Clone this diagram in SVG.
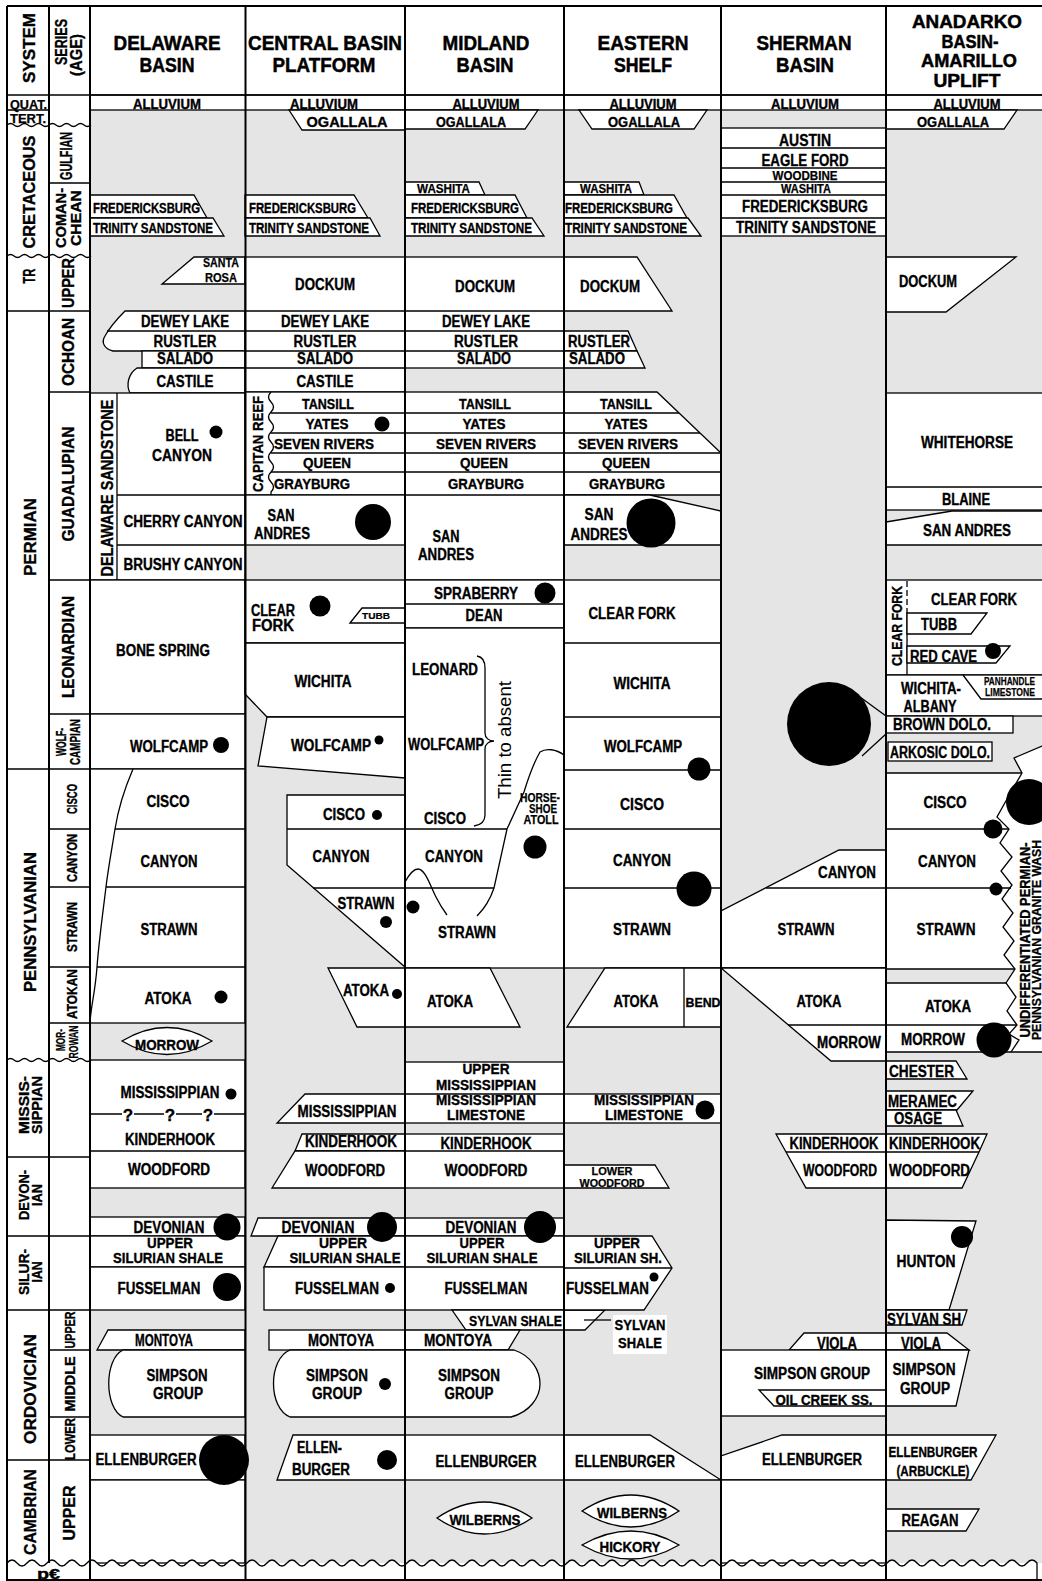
<svg xmlns="http://www.w3.org/2000/svg" width="1042" height="1581" viewBox="0 0 1042 1581">
<style>
.g{fill:#e5e5e5}
.w{fill:#fff;stroke:#000;stroke-width:1.3}
.n{fill:none;stroke:#000;stroke-width:1.3}
.v{fill:none;stroke:#000;stroke-width:2}
.d{fill:#000}
text{font-family:"Liberation Sans",Arial,Helvetica,sans-serif;font-weight:700;font-size:16px;text-anchor:middle;fill:#000;stroke:#000;stroke-width:.35px}
.a{text-anchor:start}
.e{text-anchor:end}
.h{font-size:21px;stroke-width:.5px}
.f9{font-size:9px;stroke-width:.2px}.f11{font-size:11px;stroke-width:.25px}.f12{font-size:12px;stroke-width:.25px}.f13{font-size:13px}.f14{font-size:14px}.f15{font-size:15px}.f17{font-size:17px}.f19{font-size:19px;stroke-width:.5px}
.thin{font-weight:400;font-size:18.5px;stroke:none}
</style>
<rect width="1042" height="1581" fill="#fff"/>
<rect class="g" x="90" y="110" width="952" height="1453"/>
<rect class="w" x="90" y="95" width="960" height="15"/>

<g id="delaware">
<polygon class="w" points="90,195 194,195 207,218 90,218"/>
<polygon class="w" points="90,218 213,218 224,236 90,236"/>
<polygon class="w" points="194,257 245,257 245,284 162,284"/>
<path class="w" d="M125,311 H245 V351 H113 C104,349 101,342 105,336 C110,327 118,318 125,311 Z"/>
<line class="n" x1="107" y1="331" x2="245" y2="331"/>
<rect class="w" x="142" y="351" width="103" height="17"/>
<path class="w" d="M137,368 H245 V393 H130 C126,385 128,374 137,368 Z"/>
<rect class="w" x="90" y="393" width="155" height="187"/>
<path class="n" d="M117,393 V580 M117,495 H245 M117,545 H245"/>
<rect class="w" x="90" y="580" width="155" height="134"/>
<rect class="w" x="90" y="714" width="155" height="55"/>
<rect class="w" x="90" y="769" width="155" height="254"/>
<path class="n" d="M133,769 C124,790 118,810 115,829 S108,870 106,887 S99,940 97,967 S91,1005 90,1023"/>
<path class="n" d="M115,829 H245 M106,887 H245 M97,967 H245"/>
<path class="w" d="M122,1041 Q167,1014 212,1041 Q167,1068 122,1041 Z"/>
<rect class="w" x="90" y="1060" width="155" height="128"/>
<path class="n" d="M90,1114 H122 M134,1114 H164 M176,1114 H202 M214,1114 H245 M90,1151 H245"/>
<rect class="w" x="90" y="1217" width="155" height="19"/>
<rect class="w" x="90" y="1236" width="155" height="31"/>
<rect class="w" x="90" y="1267" width="155" height="43"/>
<polygon class="w" points="108,1330 245,1330 245,1350 97,1350"/>
<path class="w" d="M123,1350 H245 V1417 H123 C104,1408 104,1359 123,1350 Z"/>
<rect class="w" x="90" y="1435" width="155" height="45"/>
<rect class="w" x="90" y="1480" width="155" height="83"/>
</g>

<g id="central-basin-platform">
<polygon class="w" points="289,110 405,110 405,130 302,130"/>
<polygon class="w" points="245,195 354,195 368,218 245,218"/>
<polygon class="w" points="245,218 370,218 380,236 245,236"/>
<rect class="w" x="245" y="257" width="160" height="135"/>
<path class="n" d="M245,311 H405 M245,331 H405 M245,351 H405 M245,368 H405"/>
<rect class="w" x="245" y="392" width="160" height="103"/>
<path class="n" d="M271,392 q-5,5 0,10 t0,10 t0,10 t0,10 t0,10 t0,10 t0,10 t0,10 t0,10 t0,10 l0,3"/>
<path class="n" d="M271,413 H405 M271,433 H405 M271,453 H405 M271,472 H405"/>
<rect class="w" x="245" y="495" width="160" height="50"/>
<rect class="w" x="245" y="580" width="160" height="63"/>
<polygon class="w" points="350,623 362,608 405,608 405,623"/>
<polygon class="w" points="245,643 405,643 405,717 267,717 245,694"/>
<polygon class="w" points="267,717 405,717 405,778 258,766"/>
<polygon class="w" points="287,795 405,795 405,967 287,865"/>
<path class="n" d="M287,829 H405 M313,888 H405"/>
<polygon class="w" points="328,968 405,968 405,1027 357,1027"/>
<polygon class="w" points="305,1094 405,1094 405,1123 277,1123"/>
<polygon class="w" points="302,1134 405,1134 405,1151 295,1151"/>
<polygon class="w" points="295,1151 405,1151 405,1188 272,1188"/>
<polygon class="w" points="258,1218 405,1218 405,1236 251,1236"/>
<polygon class="w" points="278,1236 405,1236 405,1267 264,1267"/>
<rect class="w" x="264" y="1267" width="141" height="43"/>
<rect class="w" x="269" y="1330" width="136" height="20"/>
<path class="w" d="M290,1350 H405 V1417 H290 C268,1408 268,1359 290,1350 Z"/>
<polygon class="w" points="293,1435 405,1435 405,1480 277,1480"/>
</g>

<g id="midland-basin">
<polygon class="w" points="405,110 538,110 525,129 405,129"/>
<polygon class="w" points="405,182 479,182 485,195 405,195"/>
<polygon class="w" points="405,195 515,195 527,218 405,218"/>
<polygon class="w" points="405,218 532,218 544,236 405,236"/>
<rect class="w" x="405" y="257" width="159" height="111"/>
<path class="n" d="M405,311 H564 M405,331 H564 M405,351 H564"/>
<rect class="w" x="405" y="392" width="159" height="188"/>
<path class="n" d="M405,413 H564 M405,433 H564 M405,453 H564 M405,472 H564 M405,495 H564"/>
<rect class="w" x="405" y="580" width="159" height="48"/>
<line class="n" x1="405" y1="604" x2="564" y2="604"/>
<rect class="w" x="405" y="628" width="159" height="340"/>
<path class="n" d="M405,829 H507 M405,888 H494"/>
<path class="n" d="M564,755 C556,749 546,748 540,752 C533,764 528,779 524,792 L507,829 L494,888 C490,900 484,909 477,916"/>
<path class="n" d="M405,882 C410,873 414,869 418,869 C425,869 430,885 436,897 C440,905 444,911 447,915"/>
<path class="n" d="M477,656 C483,657 485,661 485,668 L485,733 C485,738 489,741 494,741 C489,741 485,744 485,749 L485,815 C485,821 481,825 474,826"/>
<polygon class="w" points="405,968 490,968 520,1027 405,1027"/>
<rect class="w" x="405" y="1062" width="159" height="61"/>
<line class="n" x1="405" y1="1094" x2="564" y2="1094"/>
<rect class="w" x="405" y="1134" width="159" height="54"/>
<line class="n" x1="405" y1="1151" x2="564" y2="1151"/>
<rect class="w" x="405" y="1218" width="159" height="18"/>
<rect class="w" x="405" y="1236" width="159" height="74"/>
<line class="n" x1="405" y1="1267" x2="564" y2="1267"/>
<polygon class="w" points="452,1310 605,1310 585,1330 466,1330"/>
<polygon class="w" points="405,1330 520,1330 508,1350 405,1350"/>
<path class="w" d="M405,1350 H514 C532,1356 540,1371 540,1384 C540,1397 530,1412 511,1417 H405 Z"/>
<rect class="w" x="405" y="1435" width="159" height="45"/>
<path class="w" d="M437,1518 Q484,1486 532,1518 Q484,1550 437,1518 Z"/>
</g>

<g id="eastern-shelf">
<polygon class="w" points="579,110 707,110 694,129 592,129"/>
<polygon class="w" points="564,182 639,182 644,195 564,195"/>
<polygon class="w" points="564,195 674,195 687,218 564,218"/>
<polygon class="w" points="564,218 688,218 701,236 564,236"/>
<polygon class="w" points="564,257 637,257 672,311 564,311"/>
<polygon class="w" points="564,331 628,331 637,351 564,351"/>
<polygon class="w" points="564,351 637,351 645,368 564,368"/>
<polygon class="w" points="564,392 657,392 721,453 721,495 564,495"/>
<path class="n" d="M564,413 H679 M564,433 H700 M564,453 H721 M564,472 H721"/>
<polygon class="w" points="564,495 650,495 721,511 721,545 564,545"/>
<rect class="w" x="564" y="580" width="157" height="388"/>
<path class="n" d="M564,643 H721 M564,717 H721 M564,770 H721 M564,829 H721 M564,888 H721"/>
<polygon class="w" points="605,968 721,968 721,1027 567,1027"/>
<line class="n" x1="684" y1="968" x2="684" y2="1027"/>
<rect class="w" x="564" y="1094" width="157" height="29"/>
<polygon class="w" points="564,1165 655,1165 669,1188 564,1188"/>
<polygon class="w" points="564,1236 652,1236 672,1268 644,1310 564,1310"/>
<line class="n" x1="564" y1="1268" x2="672" y2="1268"/>
<polygon class="w" points="564,1435 650,1435 721,1480 564,1480"/>
<path class="w" d="M582,1511 Q631,1479 679,1511 Q631,1543 582,1511 Z"/>
<path class="w" d="M582,1545 Q631,1517 679,1545 Q631,1573 582,1545 Z"/>
<rect x="613" y="1315" width="54" height="39" fill="#fff"/>
</g>

<g id="sherman-basin">
<rect class="w" x="721" y="128" width="165" height="108"/>
<path class="n" d="M721,148 H886 M721,168 H886 M721,182 H886 M721,195 H886 M721,218 H886"/>
<polygon class="w" points="839,850 886,850 886,968 721,968 721,911"/>
<line class="n" x1="766" y1="888" x2="886" y2="888"/>
<polygon class="w" points="721,968 886,968 886,1061 831,1061"/>
<line class="n" x1="788" y1="1025" x2="886" y2="1025"/>
<polygon class="w" points="776,1134 987,1134 979,1152 962,1188 806,1188"/>
<line class="n" x1="786" y1="1152" x2="979" y2="1152"/>
<polygon class="w" points="804,1333 947,1333 969,1350 789,1350"/>
<rect class="w" x="721" y="1350" width="165" height="66"/>
<polygon class="w" points="759,1390 886,1390 886,1406 774,1406"/>
<polygon class="w" points="886,1350 969,1350 956,1406 886,1406"/>
<polygon class="w" points="782,1435 886,1435 886,1480 721,1480 721,1456"/>
<rect class="w" x="721" y="1480" width="165" height="83"/>
</g>

<g id="anadarko-basin">
<polygon class="w" points="886,110 1017,110 1004,129 886,129"/>
<polygon class="w" points="886,257 1016,257 946,312 886,312"/>
<rect class="w" x="886" y="393" width="160" height="117"/>
<line class="n" x1="886" y1="487" x2="1046" y2="487"/>
<polygon class="w" points="886,522 952,511 1046,511 1046,545 886,545"/>
<rect class="w" x="886" y="580" width="160" height="95"/>
<path class="n" d="M907,613 V675"/>
<path class="n" d="M907,581 V613" stroke-dasharray="6,3"/>
<polygon class="w" points="907,613 987,613 971,634 907,634"/>
<polygon class="w" points="907,646 1010,646 996,663 907,663"/>
<rect class="w" x="886" y="675" width="160" height="41"/>
<path class="n" d="M963,675 L981,699 H1046"/>
<rect class="w" x="886" y="716" width="127" height="17"/>
<rect class="w" x="888" y="742" width="104" height="19"/>
<polygon fill="#fff" points="886,773 1022,773 1014,758 1042,746 1046,746 1046,1052 886,1052"/>
<polygon class="g" points="886,969 1015,969 1006,983 886,983"/>
<polyline class="n" points="1042,746 1014,758 1022,773 1011,792 997,817 1009,829 1000,843 1012,857 1001,871 1012,885 1002,899 1013,913 1003,927 1014,941 1004,955 1015,969 1006,983 1016,997 1007,1011 1017,1025 1009,1034 1019,1040 1011,1052"/>
<path class="n" d="M886,773 H1022 M886,829 H1009 M886,888 H1011 M886,969 H1015 M886,983 H1006 M886,1025 H1017 M886,1052 H1046"/>
<polygon class="w" points="886,1061 956,1061 967,1079 886,1079"/>
<polygon class="w" points="886,1091 973,1091 957,1110 886,1110"/>
<polygon class="w" points="886,1110 956,1110 963,1126 886,1126"/>
<polygon class="w" points="886,1220 976,1221 949,1310 886,1310"/>
<polygon class="w" points="886,1310 967,1310 962,1325 886,1325"/>
<polygon class="w" points="886,1435 996,1435 971,1480 886,1480"/>
<polygon class="w" points="886,1509 979,1509 966,1531 886,1531"/>
</g>

<g id="connectors">
<path class="n" d="M860,697 L886,716 M862,756 L886,734"/>
<path class="n" d="M584,1320 H611"/>
</g>

<g id="frame">
<path class="w" d="M7,1563 q5,-6 10,0 t10,0t10,0t10,0t10,0t10,0t10,0t10,0t10,0t10,0 t10,0t10,0t10,0t10,0t10,0t10,0t10,0t10,0t10,0t10,0 t10,0t10,0t10,0t10,0t10,0t10,0t10,0t10,0t10,0t10,0 t10,0t10,0t10,0t10,0t10,0t10,0t10,0t10,0t10,0t10,0 t10,0t10,0t10,0t10,0t10,0t10,0t10,0t10,0t10,0t10,0 t10,0t10,0t10,0t10,0t10,0t10,0t10,0t10,0t10,0t10,0 t10,0t10,0t10,0t10,0t10,0t10,0t10,0t10,0t10,0t10,0 t10,0t10,0t10,0t10,0t10,0t10,0t10,0t10,0t10,0t10,0 t10,0t10,0t10,0t10,0t10,0t10,0t10,0t10,0t10,0t10,0 t10,0t10,0t10,0t10,0t10,0t10,0t10,0t10,0t10,0t10,0 t10,0t10,0t10,0 V1590 H7 Z"/>
<path class="n" d="M7,95 H1042 M7,110 H49 M49,183 H90 M7,311 H90 M49,392 H90 M49,580 H90 M49,714 H90 M7,769 H90 M49,829 H90 M49,887 H90 M49,967 H90 M49,1023 H90 M7,1157 H90 M7,1236 H90 M7,1310 H90 M49,1350 H90 M49,1417 H90 M7,1460 H90"/>
<path class="n" d="M7,125 q3.5,-3 7,0 t7,0 t7,0 t7,0 t7,0 t7,0 t7,0 t7,0 t7,0 t7,0 t7,0 t7,0"/>
<path class="n" d="M7,256 q3.5,-3 7,0 t7,0 t7,0 t7,0 t7,0 t7,0 t7,0 t7,0 t7,0 t7,0 t7,0 t7,0"/>
<path class="n" d="M7,1060 q3.5,-3 7,0 t7,0 t7,0 t7,0 t7,0 t7,0 t7,0 t7,0 t7,0 t7,0 t7,0 t7,0"/>
<path class="v" d="M7,6 H1042 M7,6 V1580 H1042 M49,6 V1563 M90,6 V1580 M245.5,6 V1580 M405,6 V1580 M564,6 V1580 M721,6 V1580 M886,6 V1580"/>
</g>

<g id="dots" class="d">
<circle cx="216" cy="432" r="6.5"/><circle cx="221" cy="745" r="8"/><circle cx="221" cy="997" r="6.5"/><circle cx="231" cy="1094" r="5.5"/><circle cx="227" cy="1227" r="13.5"/><circle cx="227" cy="1287" r="14"/><circle cx="224" cy="1460" r="25"/>
<circle cx="382" cy="424" r="7.5"/><circle cx="373" cy="522" r="18"/><circle cx="320" cy="606" r="10.5"/><circle cx="379" cy="740" r="4.5"/><circle cx="377" cy="815" r="5"/><circle cx="386" cy="922" r="6"/><circle cx="397" cy="994" r="5"/><circle cx="382" cy="1227" r="15"/><circle cx="390" cy="1288" r="5"/><circle cx="385" cy="1384" r="6"/><circle cx="387" cy="1460" r="10"/>
<circle cx="545" cy="593" r="10.5"/><circle cx="413" cy="907" r="6.5"/><circle cx="535" cy="847" r="11.5"/><circle cx="540" cy="1227" r="16"/>
<circle cx="651" cy="523" r="24.5"/><circle cx="699" cy="769" r="11.5"/><circle cx="694" cy="889" r="17.5"/><circle cx="705" cy="1110" r="9.5"/><circle cx="654" cy="1277" r="4.5"/>
<circle cx="829" cy="724" r="42"/>
<circle cx="993" cy="651" r="8"/><circle cx="1029" cy="802" r="23"/><circle cx="993" cy="829" r="9.5"/><circle cx="996" cy="889" r="6.5"/><circle cx="994" cy="1040" r="17.5"/><circle cx="962" cy="1237" r="11"/>
</g>

<g id="headers">
<text class="h" x="167" y="50" textLength="107" lengthAdjust="spacingAndGlyphs">DELAWARE</text>
<text class="h" x="167" y="72" textLength="55" lengthAdjust="spacingAndGlyphs">BASIN</text>
<text class="h" x="325" y="50" textLength="154" lengthAdjust="spacingAndGlyphs">CENTRAL BASIN</text>
<text class="h" x="324" y="72" textLength="103" lengthAdjust="spacingAndGlyphs">PLATFORM</text>
<text class="h" x="486" y="50" textLength="87" lengthAdjust="spacingAndGlyphs">MIDLAND</text>
<text class="h" x="485" y="72" textLength="57" lengthAdjust="spacingAndGlyphs">BASIN</text>
<text class="h" x="643" y="50" textLength="91" lengthAdjust="spacingAndGlyphs">EASTERN</text>
<text class="h" x="643" y="72" textLength="58" lengthAdjust="spacingAndGlyphs">SHELF</text>
<text class="h" x="804" y="50" textLength="95" lengthAdjust="spacingAndGlyphs">SHERMAN</text>
<text class="h" x="805" y="72" textLength="58" lengthAdjust="spacingAndGlyphs">BASIN</text>
<text class="f19" x="967" y="28" textLength="110" lengthAdjust="spacingAndGlyphs">ANADARKO</text>
<text class="f19" x="970" y="48" textLength="57" lengthAdjust="spacingAndGlyphs">BASIN-</text>
<text class="f19" x="969" y="67" textLength="96" lengthAdjust="spacingAndGlyphs">AMARILLO</text>
<text class="f19" x="967" y="87" textLength="67" lengthAdjust="spacingAndGlyphs">UPLIFT</text>
<text class="f17" transform="rotate(-90 35 48)" x="35" y="48" textLength="70" lengthAdjust="spacingAndGlyphs">SYSTEM</text>
<text class="f17" transform="rotate(-90 67 42)" x="67" y="42" textLength="46" lengthAdjust="spacingAndGlyphs">SERIES</text>
<text class="f17" transform="rotate(-90 82 55)" x="82" y="55" textLength="42" lengthAdjust="spacingAndGlyphs">(AGE)</text>
</g>

<g id="age-labels">
<text class="f12 a" x="10" y="109" textLength="37" lengthAdjust="spacingAndGlyphs">QUAT.</text>
<text class="f12 a" x="10" y="123" textLength="36" lengthAdjust="spacingAndGlyphs">TERT.</text>
<text class="f17" transform="rotate(-90 35 192)" x="35" y="192" textLength="113" lengthAdjust="spacingAndGlyphs">CRETACEOUS</text>
<text class="f17" transform="rotate(-90 35 276)" x="35" y="276" textLength="15" lengthAdjust="spacingAndGlyphs">TR</text>
<text class="f17" transform="rotate(-90 36 537)" x="36" y="537" textLength="78" lengthAdjust="spacingAndGlyphs">PERMIAN</text>
<text class="f17" transform="rotate(-90 36 922)" x="36" y="922" textLength="140" lengthAdjust="spacingAndGlyphs">PENNSYLVANIAN</text>
<text class="f15" transform="rotate(-90 29 1105)" x="29" y="1105" textLength="58" lengthAdjust="spacingAndGlyphs">MISSIS-</text>
<text class="f15" transform="rotate(-90 42 1105)" x="42" y="1105" textLength="58" lengthAdjust="spacingAndGlyphs">SIPPIAN</text>
<text class="f15" transform="rotate(-90 29 1195)" x="29" y="1195" textLength="50" lengthAdjust="spacingAndGlyphs">DEVON-</text>
<text class="f15" transform="rotate(-90 42 1195)" x="42" y="1195" textLength="22" lengthAdjust="spacingAndGlyphs">IAN</text>
<text class="f15" transform="rotate(-90 29 1272)" x="29" y="1272" textLength="46" lengthAdjust="spacingAndGlyphs">SILUR-</text>
<text class="f15" transform="rotate(-90 42 1272)" x="42" y="1272" textLength="21" lengthAdjust="spacingAndGlyphs">IAN</text>
<text class="f17" transform="rotate(-90 36 1389)" x="36" y="1389" textLength="110" lengthAdjust="spacingAndGlyphs">ORDOVICIAN</text>
<text class="f17" transform="rotate(-90 36 1512)" x="36" y="1512" textLength="86" lengthAdjust="spacingAndGlyphs">CAMBRIAN</text>
<text class="f14 a" x="37" y="1579" textLength="23" lengthAdjust="spacingAndGlyphs">p€</text>
<text transform="rotate(-90 72 156)" x="72" y="156" textLength="48" lengthAdjust="spacingAndGlyphs">GULFIAN</text>
<text class="f15" transform="rotate(-90 66 218)" x="66" y="218" textLength="60" lengthAdjust="spacingAndGlyphs">COMAN-</text>
<text class="f15" transform="rotate(-90 81 218)" x="81" y="218" textLength="56" lengthAdjust="spacingAndGlyphs">CHEAN</text>
<text transform="rotate(-90 74 283)" x="74" y="283" textLength="50" lengthAdjust="spacingAndGlyphs">UPPER</text>
<text transform="rotate(-90 74 352)" x="74" y="352" textLength="68" lengthAdjust="spacingAndGlyphs">OCHOAN</text>
<text transform="rotate(-90 74 484)" x="74" y="484" textLength="115" lengthAdjust="spacingAndGlyphs">GUADALUPIAN</text>
<text transform="rotate(-90 74 647)" x="74" y="647" textLength="102" lengthAdjust="spacingAndGlyphs">LEONARDIAN</text>
<text class="f14" transform="rotate(-90 66 742)" x="66" y="742" textLength="28" lengthAdjust="spacingAndGlyphs">WOLF-</text>
<text class="f14" transform="rotate(-90 80 742)" x="80" y="742" textLength="46" lengthAdjust="spacingAndGlyphs">CAMPIAN</text>
<text class="f14" transform="rotate(-90 77 799)" x="77" y="799" textLength="30" lengthAdjust="spacingAndGlyphs">CISCO</text>
<text class="f14" transform="rotate(-90 77 858)" x="77" y="858" textLength="48" lengthAdjust="spacingAndGlyphs">CANYON</text>
<text class="f14" transform="rotate(-90 77 927)" x="77" y="927" textLength="50" lengthAdjust="spacingAndGlyphs">STRAWN</text>
<text class="f14" transform="rotate(-90 77 994)" x="77" y="994" textLength="50" lengthAdjust="spacingAndGlyphs">ATOKAN</text>
<text class="f12" transform="rotate(-90 65 1040)" x="65" y="1040" textLength="22" lengthAdjust="spacingAndGlyphs">MOR-</text>
<text class="f12" transform="rotate(-90 78 1042)" x="78" y="1042" textLength="33" lengthAdjust="spacingAndGlyphs">ROWAN</text>
<text class="f14" transform="rotate(-90 75 1330)" x="75" y="1330" textLength="37" lengthAdjust="spacingAndGlyphs">UPPER</text>
<text class="f14" transform="rotate(-90 75 1384)" x="75" y="1384" textLength="55" lengthAdjust="spacingAndGlyphs">MIDDLE</text>
<text class="f14" transform="rotate(-90 75 1439)" x="75" y="1439" textLength="42" lengthAdjust="spacingAndGlyphs">LOWER</text>
<text transform="rotate(-90 75 1513)" x="75" y="1513" textLength="55" lengthAdjust="spacingAndGlyphs">UPPER</text>
</g>

<g id="delaware-labels">
<text class="f14" x="167" y="109" textLength="68" lengthAdjust="spacingAndGlyphs">ALLUVIUM</text>
<text class="f14 a" x="93" y="213" textLength="107" lengthAdjust="spacingAndGlyphs">FREDERICKSBURG</text>
<text class="f14 a" x="93" y="233" textLength="120" lengthAdjust="spacingAndGlyphs">TRINITY SANDSTONE</text>
<text class="f12 e" x="239" y="267" textLength="36" lengthAdjust="spacingAndGlyphs">SANTA</text>
<text class="f12 e" x="237" y="282" textLength="32" lengthAdjust="spacingAndGlyphs">ROSA</text>
<text x="185" y="327" textLength="88" lengthAdjust="spacingAndGlyphs">DEWEY LAKE</text>
<text x="185" y="347" textLength="63" lengthAdjust="spacingAndGlyphs">RUSTLER</text>
<text x="185" y="364" textLength="56" lengthAdjust="spacingAndGlyphs">SALADO</text>
<text x="185" y="387" textLength="57" lengthAdjust="spacingAndGlyphs">CASTILE</text>
<text x="182" y="441" textLength="33" lengthAdjust="spacingAndGlyphs">BELL</text>
<text x="182" y="461" textLength="60" lengthAdjust="spacingAndGlyphs">CANYON</text>
<text x="183" y="527" textLength="119" lengthAdjust="spacingAndGlyphs">CHERRY CANYON</text>
<text x="183" y="570" textLength="119" lengthAdjust="spacingAndGlyphs">BRUSHY CANYON</text>
<text x="163" y="656" textLength="94" lengthAdjust="spacingAndGlyphs">BONE SPRING</text>
<text x="169" y="752" textLength="78" lengthAdjust="spacingAndGlyphs">WOLFCAMP</text>
<text x="168" y="807" textLength="43" lengthAdjust="spacingAndGlyphs">CISCO</text>
<text x="169" y="867" textLength="57" lengthAdjust="spacingAndGlyphs">CANYON</text>
<text x="169" y="935" textLength="57" lengthAdjust="spacingAndGlyphs">STRAWN</text>
<text x="168" y="1004" textLength="47" lengthAdjust="spacingAndGlyphs">ATOKA</text>
<text class="f15" x="167" y="1050" textLength="64" lengthAdjust="spacingAndGlyphs">MORROW</text>
<text x="170" y="1098" textLength="99" lengthAdjust="spacingAndGlyphs">MISSISSIPPIAN</text>
<text class="f17" x="128" y="1121">?</text>
<text class="f17" x="170" y="1121">?</text>
<text class="f17" x="208" y="1121">?</text>
<text x="170" y="1145" textLength="90" lengthAdjust="spacingAndGlyphs">KINDERHOOK</text>
<text x="169" y="1175" textLength="82" lengthAdjust="spacingAndGlyphs">WOODFORD</text>
<text x="169" y="1233" textLength="71" lengthAdjust="spacingAndGlyphs">DEVONIAN</text>
<text class="f15" x="170" y="1248" textLength="46" lengthAdjust="spacingAndGlyphs">UPPER</text>
<text class="f15" x="168" y="1263" textLength="110" lengthAdjust="spacingAndGlyphs">SILURIAN SHALE</text>
<text x="159" y="1294" textLength="83" lengthAdjust="spacingAndGlyphs">FUSSELMAN</text>
<text x="164" y="1346" textLength="58" lengthAdjust="spacingAndGlyphs">MONTOYA</text>
<text x="177" y="1381" textLength="61" lengthAdjust="spacingAndGlyphs">SIMPSON</text>
<text x="178" y="1399" textLength="50" lengthAdjust="spacingAndGlyphs">GROUP</text>
<text x="146" y="1465" textLength="101" lengthAdjust="spacingAndGlyphs">ELLENBURGER</text>
<text transform="rotate(-90 113 488)" x="113" y="488" textLength="177" lengthAdjust="spacingAndGlyphs">DELAWARE SANDSTONE</text>
</g>

<g id="cbp-labels">
<text class="f14" x="324" y="109" textLength="68" lengthAdjust="spacingAndGlyphs">ALLUVIUM</text>
<text class="f15" x="347" y="127" textLength="81" lengthAdjust="spacingAndGlyphs">OGALLALA</text>
<text class="f14 a" x="249" y="213" textLength="107" lengthAdjust="spacingAndGlyphs">FREDERICKSBURG</text>
<text class="f14 a" x="249" y="233" textLength="120" lengthAdjust="spacingAndGlyphs">TRINITY SANDSTONE</text>
<text x="325" y="290" textLength="60" lengthAdjust="spacingAndGlyphs">DOCKUM</text>
<text x="325" y="327" textLength="88" lengthAdjust="spacingAndGlyphs">DEWEY LAKE</text>
<text x="325" y="347" textLength="63" lengthAdjust="spacingAndGlyphs">RUSTLER</text>
<text x="325" y="364" textLength="56" lengthAdjust="spacingAndGlyphs">SALADO</text>
<text x="325" y="387" textLength="57" lengthAdjust="spacingAndGlyphs">CASTILE</text>
<text class="f15" x="328" y="409" textLength="52" lengthAdjust="spacingAndGlyphs">TANSILL</text>
<text class="f15" x="327" y="429" textLength="43" lengthAdjust="spacingAndGlyphs">YATES</text>
<text class="f15" x="324" y="449" textLength="100" lengthAdjust="spacingAndGlyphs">SEVEN RIVERS</text>
<text class="f15" x="327" y="468" textLength="48" lengthAdjust="spacingAndGlyphs">QUEEN</text>
<text class="f15" x="312" y="489" textLength="76" lengthAdjust="spacingAndGlyphs">GRAYBURG</text>
<text class="f14" transform="rotate(-90 263 444)" x="263" y="444" textLength="96" lengthAdjust="spacingAndGlyphs">CAPITAN REEF</text>
<text x="281" y="521" textLength="27" lengthAdjust="spacingAndGlyphs">SAN</text>
<text x="282" y="539" textLength="56" lengthAdjust="spacingAndGlyphs">ANDRES</text>
<text class="a" x="251" y="616" textLength="44" lengthAdjust="spacingAndGlyphs">CLEAR</text>
<text class="a" x="252" y="631" textLength="42" lengthAdjust="spacingAndGlyphs">FORK</text>
<text class="f9" x="376" y="619" textLength="28" lengthAdjust="spacingAndGlyphs">TUBB</text>
<text x="323" y="687" textLength="57" lengthAdjust="spacingAndGlyphs">WICHITA</text>
<text x="331" y="751" textLength="80" lengthAdjust="spacingAndGlyphs">WOLFCAMP</text>
<text x="344" y="820" textLength="42" lengthAdjust="spacingAndGlyphs">CISCO</text>
<text x="341" y="862" textLength="57" lengthAdjust="spacingAndGlyphs">CANYON</text>
<text x="366" y="909" textLength="57" lengthAdjust="spacingAndGlyphs">STRAWN</text>
<text x="366" y="996" textLength="46" lengthAdjust="spacingAndGlyphs">ATOKA</text>
<text x="347" y="1117" textLength="99" lengthAdjust="spacingAndGlyphs">MISSISSIPPIAN</text>
<text x="351" y="1147" textLength="92" lengthAdjust="spacingAndGlyphs">KINDERHOOK</text>
<text x="345" y="1176" textLength="80" lengthAdjust="spacingAndGlyphs">WOODFORD</text>
<text x="318" y="1233" textLength="73" lengthAdjust="spacingAndGlyphs">DEVONIAN</text>
<text class="f15" x="343" y="1248" textLength="48" lengthAdjust="spacingAndGlyphs">UPPER</text>
<text class="f15" x="345" y="1263" textLength="111" lengthAdjust="spacingAndGlyphs">SILURIAN SHALE</text>
<text x="337" y="1294" textLength="84" lengthAdjust="spacingAndGlyphs">FUSSELMAN</text>
<text x="341" y="1346" textLength="66" lengthAdjust="spacingAndGlyphs">MONTOYA</text>
<text x="337" y="1381" textLength="62" lengthAdjust="spacingAndGlyphs">SIMPSON</text>
<text x="337" y="1399" textLength="50" lengthAdjust="spacingAndGlyphs">GROUP</text>
<text class="a" x="297" y="1453" textLength="45" lengthAdjust="spacingAndGlyphs">ELLEN-</text>
<text class="a" x="292" y="1475" textLength="58" lengthAdjust="spacingAndGlyphs">BURGER</text>
</g>

<g id="midland-labels">
<text class="f14" x="486" y="109" textLength="67" lengthAdjust="spacingAndGlyphs">ALLUVIUM</text>
<text class="f15" x="471" y="127" textLength="70" lengthAdjust="spacingAndGlyphs">OGALLALA</text>
<text class="f12 a" x="417" y="193" textLength="53" lengthAdjust="spacingAndGlyphs">WASHITA</text>
<text class="f14 a" x="411" y="213" textLength="108" lengthAdjust="spacingAndGlyphs">FREDERICKSBURG</text>
<text class="f14 a" x="411" y="233" textLength="121" lengthAdjust="spacingAndGlyphs">TRINITY SANDSTONE</text>
<text x="485" y="292" textLength="60" lengthAdjust="spacingAndGlyphs">DOCKUM</text>
<text x="486" y="327" textLength="88" lengthAdjust="spacingAndGlyphs">DEWEY LAKE</text>
<text x="486" y="347" textLength="64" lengthAdjust="spacingAndGlyphs">RUSTLER</text>
<text x="484" y="364" textLength="54" lengthAdjust="spacingAndGlyphs">SALADO</text>
<text class="f15" x="485" y="409" textLength="52" lengthAdjust="spacingAndGlyphs">TANSILL</text>
<text class="f15" x="484" y="429" textLength="43" lengthAdjust="spacingAndGlyphs">YATES</text>
<text class="f15" x="486" y="449" textLength="100" lengthAdjust="spacingAndGlyphs">SEVEN RIVERS</text>
<text class="f15" x="484" y="468" textLength="48" lengthAdjust="spacingAndGlyphs">QUEEN</text>
<text class="f15" x="486" y="489" textLength="76" lengthAdjust="spacingAndGlyphs">GRAYBURG</text>
<text x="446" y="542" textLength="27" lengthAdjust="spacingAndGlyphs">SAN</text>
<text x="446" y="560" textLength="56" lengthAdjust="spacingAndGlyphs">ANDRES</text>
<text x="476" y="599" textLength="84" lengthAdjust="spacingAndGlyphs">SPRABERRY</text>
<text x="484" y="621" textLength="37" lengthAdjust="spacingAndGlyphs">DEAN</text>
<text x="445" y="675" textLength="66" lengthAdjust="spacingAndGlyphs">LEONARD</text>
<text x="446" y="750" textLength="76" lengthAdjust="spacingAndGlyphs">WOLFCAMP</text>
<text x="445" y="824" textLength="42" lengthAdjust="spacingAndGlyphs">CISCO</text>
<text x="454" y="862" textLength="58" lengthAdjust="spacingAndGlyphs">CANYON</text>
<text x="467" y="938" textLength="58" lengthAdjust="spacingAndGlyphs">STRAWN</text>
<text class="thin" transform="rotate(-90 511 740)" x="511" y="740" textLength="118" lengthAdjust="spacingAndGlyphs">Thin to absent</text>
<text class="f12" x="540" y="802" textLength="40" lengthAdjust="spacingAndGlyphs">HORSE-</text>
<text class="f12" x="543" y="813" textLength="28" lengthAdjust="spacingAndGlyphs">SHOE</text>
<text class="f12" x="541" y="824" textLength="35" lengthAdjust="spacingAndGlyphs">ATOLL</text>
<text x="450" y="1007" textLength="46" lengthAdjust="spacingAndGlyphs">ATOKA</text>
<text class="f15" x="486" y="1074" textLength="47" lengthAdjust="spacingAndGlyphs">UPPER</text>
<text class="f15" x="486" y="1090" textLength="100" lengthAdjust="spacingAndGlyphs">MISSISSIPPIAN</text>
<text class="f15" x="486" y="1105" textLength="100" lengthAdjust="spacingAndGlyphs">MISSISSIPPIAN</text>
<text class="f15" x="486" y="1120" textLength="78" lengthAdjust="spacingAndGlyphs">LIMESTONE</text>
<text x="486" y="1149" textLength="91" lengthAdjust="spacingAndGlyphs">KINDERHOOK</text>
<text x="486" y="1176" textLength="83" lengthAdjust="spacingAndGlyphs">WOODFORD</text>
<text x="481" y="1233" textLength="71" lengthAdjust="spacingAndGlyphs">DEVONIAN</text>
<text class="f15" x="482" y="1248" textLength="45" lengthAdjust="spacingAndGlyphs">UPPER</text>
<text class="f15" x="482" y="1263" textLength="111" lengthAdjust="spacingAndGlyphs">SILURIAN SHALE</text>
<text x="486" y="1294" textLength="83" lengthAdjust="spacingAndGlyphs">FUSSELMAN</text>
<text class="f15 e" x="562" y="1326" textLength="93" lengthAdjust="spacingAndGlyphs">SYLVAN SHALE</text>
<text x="458" y="1346" textLength="68" lengthAdjust="spacingAndGlyphs">MONTOYA</text>
<text x="469" y="1381" textLength="62" lengthAdjust="spacingAndGlyphs">SIMPSON</text>
<text x="469" y="1399" textLength="49" lengthAdjust="spacingAndGlyphs">GROUP</text>
<text x="486" y="1467" textLength="101" lengthAdjust="spacingAndGlyphs">ELLENBURGER</text>
<text class="f15" x="485" y="1525" textLength="71" lengthAdjust="spacingAndGlyphs">WILBERNS</text>
</g>

<g id="eastern-labels">
<text class="f14" x="643" y="109" textLength="67" lengthAdjust="spacingAndGlyphs">ALLUVIUM</text>
<text class="f15" x="644" y="127" textLength="72" lengthAdjust="spacingAndGlyphs">OGALLALA</text>
<text class="f12 a" x="580" y="193" textLength="52" lengthAdjust="spacingAndGlyphs">WASHITA</text>
<text class="f14 a" x="565" y="213" textLength="108" lengthAdjust="spacingAndGlyphs">FREDERICKSBURG</text>
<text class="f14 a" x="565" y="233" textLength="122" lengthAdjust="spacingAndGlyphs">TRINITY SANDSTONE</text>
<text x="610" y="292" textLength="60" lengthAdjust="spacingAndGlyphs">DOCKUM</text>
<text class="a" x="568" y="347" textLength="62" lengthAdjust="spacingAndGlyphs">RUSTLER</text>
<text class="a" x="569" y="364" textLength="56" lengthAdjust="spacingAndGlyphs">SALADO</text>
<text class="f15" x="626" y="409" textLength="52" lengthAdjust="spacingAndGlyphs">TANSILL</text>
<text class="f15" x="626" y="429" textLength="43" lengthAdjust="spacingAndGlyphs">YATES</text>
<text class="f15" x="628" y="449" textLength="100" lengthAdjust="spacingAndGlyphs">SEVEN RIVERS</text>
<text class="f15" x="626" y="468" textLength="48" lengthAdjust="spacingAndGlyphs">QUEEN</text>
<text class="f15" x="627" y="489" textLength="76" lengthAdjust="spacingAndGlyphs">GRAYBURG</text>
<text x="599" y="520" textLength="29" lengthAdjust="spacingAndGlyphs">SAN</text>
<text x="599" y="540" textLength="57" lengthAdjust="spacingAndGlyphs">ANDRES</text>
<text x="632" y="619" textLength="87" lengthAdjust="spacingAndGlyphs">CLEAR FORK</text>
<text x="642" y="689" textLength="57" lengthAdjust="spacingAndGlyphs">WICHITA</text>
<text x="643" y="752" textLength="78" lengthAdjust="spacingAndGlyphs">WOLFCAMP</text>
<text x="642" y="810" textLength="44" lengthAdjust="spacingAndGlyphs">CISCO</text>
<text x="642" y="866" textLength="58" lengthAdjust="spacingAndGlyphs">CANYON</text>
<text x="642" y="935" textLength="58" lengthAdjust="spacingAndGlyphs">STRAWN</text>
<text x="636" y="1007" textLength="45" lengthAdjust="spacingAndGlyphs">ATOKA</text>
<text class="f13" x="703" y="1007" textLength="35" lengthAdjust="spacingAndGlyphs">BEND</text>
<text class="f15" x="644" y="1105" textLength="100" lengthAdjust="spacingAndGlyphs">MISSISSIPPIAN</text>
<text class="f15" x="644" y="1120" textLength="78" lengthAdjust="spacingAndGlyphs">LIMESTONE</text>
<text class="f11" x="612" y="1175" textLength="41" lengthAdjust="spacingAndGlyphs">LOWER</text>
<text class="f11" x="612" y="1187" textLength="65" lengthAdjust="spacingAndGlyphs">WOODFORD</text>
<text class="f15" x="617" y="1248" textLength="46" lengthAdjust="spacingAndGlyphs">UPPER</text>
<text class="f15" x="618" y="1263" textLength="88" lengthAdjust="spacingAndGlyphs">SILURIAN SH.</text>
<text class="a" x="566" y="1294" textLength="83" lengthAdjust="spacingAndGlyphs">FUSSELMAN</text>
<text class="f15" x="640" y="1330" textLength="51" lengthAdjust="spacingAndGlyphs">SYLVAN</text>
<text class="f15" x="640" y="1348" textLength="44" lengthAdjust="spacingAndGlyphs">SHALE</text>
<text x="625" y="1467" textLength="100" lengthAdjust="spacingAndGlyphs">ELLENBURGER</text>
<text class="f15" x="632" y="1518" textLength="70" lengthAdjust="spacingAndGlyphs">WILBERNS</text>
<text class="f15" x="630" y="1552" textLength="61" lengthAdjust="spacingAndGlyphs">HICKORY</text>
</g>

<g id="sherman-labels">
<text class="f14" x="805" y="109" textLength="68" lengthAdjust="spacingAndGlyphs">ALLUVIUM</text>
<text x="805" y="146" textLength="52" lengthAdjust="spacingAndGlyphs">AUSTIN</text>
<text x="805" y="166" textLength="87" lengthAdjust="spacingAndGlyphs">EAGLE FORD</text>
<text class="f12" x="805" y="180" textLength="65" lengthAdjust="spacingAndGlyphs">WOODBINE</text>
<text class="f12" x="806" y="193" textLength="50" lengthAdjust="spacingAndGlyphs">WASHITA</text>
<text x="805" y="212" textLength="126" lengthAdjust="spacingAndGlyphs">FREDERICKSBURG</text>
<text x="806" y="233" textLength="140" lengthAdjust="spacingAndGlyphs">TRINITY SANDSTONE</text>
<text x="847" y="878" textLength="58" lengthAdjust="spacingAndGlyphs">CANYON</text>
<text x="806" y="935" textLength="57" lengthAdjust="spacingAndGlyphs">STRAWN</text>
<text x="819" y="1007" textLength="45" lengthAdjust="spacingAndGlyphs">ATOKA</text>
<text x="849" y="1048" textLength="64" lengthAdjust="spacingAndGlyphs">MORROW</text>
<text x="834" y="1149" textLength="89" lengthAdjust="spacingAndGlyphs">KINDERHOOK</text>
<text x="840" y="1176" textLength="74" lengthAdjust="spacingAndGlyphs">WOODFORD</text>
<text x="837" y="1349" textLength="40" lengthAdjust="spacingAndGlyphs">VIOLA</text>
<text x="812" y="1379" textLength="116" lengthAdjust="spacingAndGlyphs">SIMPSON GROUP</text>
<text class="f15" x="824" y="1405" textLength="97" lengthAdjust="spacingAndGlyphs">OIL CREEK SS.</text>
<text x="812" y="1465" textLength="100" lengthAdjust="spacingAndGlyphs">ELLENBURGER</text>
</g>

<g id="anadarko-labels">
<text class="f14" x="967" y="109" textLength="67" lengthAdjust="spacingAndGlyphs">ALLUVIUM</text>
<text class="f15" x="953" y="127" textLength="72" lengthAdjust="spacingAndGlyphs">OGALLALA</text>
<text x="928" y="287" textLength="58" lengthAdjust="spacingAndGlyphs">DOCKUM</text>
<text x="967" y="448" textLength="92" lengthAdjust="spacingAndGlyphs">WHITEHORSE</text>
<text x="966" y="505" textLength="48" lengthAdjust="spacingAndGlyphs">BLAINE</text>
<text x="967" y="536" textLength="88" lengthAdjust="spacingAndGlyphs">SAN ANDRES</text>
<text class="f14" transform="rotate(-90 902 626)" x="902" y="626" textLength="80" lengthAdjust="spacingAndGlyphs">CLEAR FORK</text>
<text x="974" y="605" textLength="86" lengthAdjust="spacingAndGlyphs">CLEAR FORK</text>
<text x="939" y="630" textLength="36" lengthAdjust="spacingAndGlyphs">TUBB</text>
<text class="a" x="910" y="662" textLength="67" lengthAdjust="spacingAndGlyphs">RED CAVE</text>
<text x="931" y="694" textLength="60" lengthAdjust="spacingAndGlyphs">WICHITA-</text>
<text x="930" y="712" textLength="53" lengthAdjust="spacingAndGlyphs">ALBANY</text>
<text class="f11 a" x="984" y="685" textLength="51" lengthAdjust="spacingAndGlyphs">PANHANDLE</text>
<text class="f11 a" x="985" y="696" textLength="50" lengthAdjust="spacingAndGlyphs">LIMESTONE</text>
<text class="a" x="893" y="730" textLength="98" lengthAdjust="spacingAndGlyphs">BROWN DOLO.</text>
<text class="a" x="890" y="758" textLength="100" lengthAdjust="spacingAndGlyphs">ARKOSIC DOLO.</text>
<text x="945" y="808" textLength="43" lengthAdjust="spacingAndGlyphs">CISCO</text>
<text x="947" y="867" textLength="58" lengthAdjust="spacingAndGlyphs">CANYON</text>
<text x="946" y="935" textLength="59" lengthAdjust="spacingAndGlyphs">STRAWN</text>
<text x="948" y="1012" textLength="46" lengthAdjust="spacingAndGlyphs">ATOKA</text>
<text x="933" y="1045" textLength="64" lengthAdjust="spacingAndGlyphs">MORROW</text>
<text class="f14" transform="rotate(-90 1030 940)" x="1030" y="940" textLength="195" lengthAdjust="spacingAndGlyphs">UNDIFFERENTIATED PERMIAN-</text>
<text class="f12" transform="rotate(-90 1041 940)" x="1041" y="940" textLength="200" lengthAdjust="spacingAndGlyphs">PENNSYLVANIAN GRANITE WASH</text>
<text class="a" x="889" y="1077" textLength="65" lengthAdjust="spacingAndGlyphs">CHESTER</text>
<text class="a" x="888" y="1107" textLength="69" lengthAdjust="spacingAndGlyphs">MERAMEC</text>
<text class="a" x="894" y="1124" textLength="48" lengthAdjust="spacingAndGlyphs">OSAGE</text>
<text class="a" x="889" y="1149" textLength="91" lengthAdjust="spacingAndGlyphs">KINDERHOOK</text>
<text class="a" x="889" y="1176" textLength="81" lengthAdjust="spacingAndGlyphs">WOODFORD</text>
<text x="926" y="1267" textLength="59" lengthAdjust="spacingAndGlyphs">HUNTON</text>
<text class="a" x="887" y="1325" textLength="74" lengthAdjust="spacingAndGlyphs">SYLVAN SH</text>
<text x="921" y="1349" textLength="40" lengthAdjust="spacingAndGlyphs">VIOLA</text>
<text x="924" y="1375" textLength="63" lengthAdjust="spacingAndGlyphs">SIMPSON</text>
<text x="925" y="1394" textLength="50" lengthAdjust="spacingAndGlyphs">GROUP</text>
<text class="f15" x="933" y="1457" textLength="89" lengthAdjust="spacingAndGlyphs">ELLENBURGER</text>
<text class="f15" x="933" y="1476" textLength="73" lengthAdjust="spacingAndGlyphs">(ARBUCKLE)</text>
<text x="930" y="1526" textLength="57" lengthAdjust="spacingAndGlyphs">REAGAN</text>
</g>
</svg>
